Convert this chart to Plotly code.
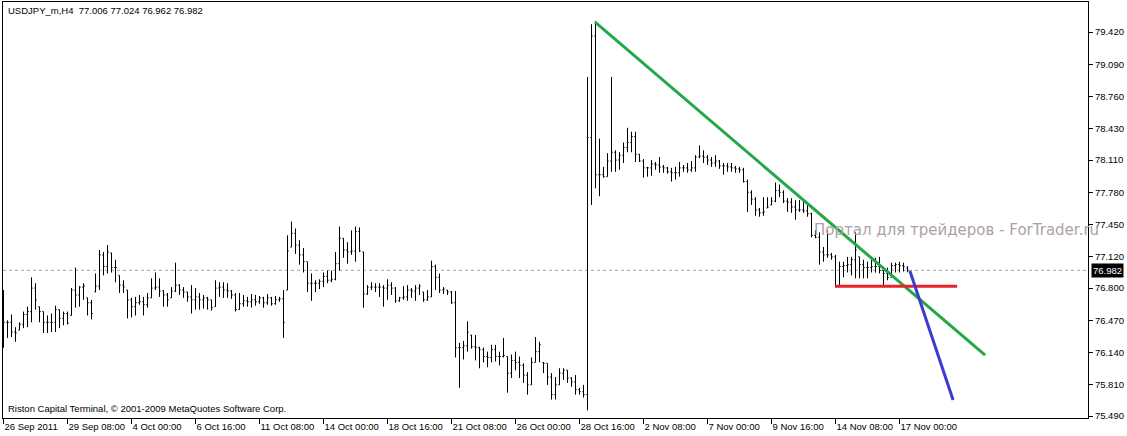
import plotly.graph_objects as go

# USDJPY_m H4 bars, one entry per bar (oldest first)
opens = [
    76.60, 76.45, 76.45, 76.35, 76.37, 76.43, 76.53, 76.56, 76.80, 76.61,
    76.56, 76.45, 76.45, 76.45, 76.58, 76.49, 76.54, 76.52, 76.78, 76.73,
    76.81, 76.70, 76.65, 76.76, 76.82, 77.14, 77.02, 77.16, 77.01, 76.93,
    76.83, 76.78, 76.68, 76.61, 76.65, 76.66, 76.63, 76.70, 76.80, 76.81,
    76.77, 76.73, 76.70, 76.77, 76.83, 76.78, 76.76, 76.71, 76.68, 76.71,
    76.68, 76.70, 76.68, 76.61, 76.80, 76.81, 76.78, 76.77, 76.73, 76.58,
    76.64, 76.67, 76.66, 76.68, 76.66, 76.70, 76.65, 76.70, 76.64, 76.68,
    76.69, 76.78, 77.22, 77.36, 77.24, 77.14, 77.07, 76.85, 76.85, 76.85,
    76.87, 76.92, 76.88, 76.89, 77.05, 77.31, 77.19, 77.17, 77.18, 77.38,
    77.17, 76.74, 76.81, 76.81, 76.81, 76.81, 76.80, 76.83, 76.80, 76.67,
    76.70, 76.71, 76.78, 76.77, 76.80, 76.76, 76.68, 76.71, 77.02, 76.91,
    76.78, 76.78, 76.76, 76.65, 76.19, 76.19, 76.21, 76.32, 76.20, 76.19,
    76.17, 76.10, 76.09, 76.17, 76.10, 76.10, 76.10, 75.93, 76.06, 76.04,
    76.01, 75.91, 75.81, 76.04, 76.15, 76.04, 76.03, 75.89, 75.71, 75.81,
    75.93, 75.96, 75.88, 75.84, 75.76, 75.74, 75.71, 78.34, 79.38, 77.96,
    77.96, 77.94, 78.10, 78.19, 78.11, 78.16, 78.24, 78.29, 78.35, 78.17,
    78.10, 78.03, 78.03, 78.07, 78.06, 78.04, 78.03, 77.99, 77.98, 77.98,
    78.03, 78.03, 78.01, 78.03, 78.14, 78.15, 78.14, 78.11, 78.08, 78.10,
    78.05, 78.05, 78.04, 78.03, 78.02, 78.01, 77.89, 77.78, 77.71, 77.60,
    77.57, 77.62, 77.65, 77.69, 77.80, 77.78, 77.69, 77.68, 77.63, 77.60,
    77.60, 77.59, 77.56, 77.34, 77.32, 77.17, 77.14, 77.14, 77.12, 76.82,
    77.02, 77.03, 77.04, 77.09, 77.12, 77.04, 77.01, 77.01, 77.02, 77.02,
    76.98, 76.95, 76.91, 77.03, 77.04, 77.03, 77.006,
]
highs = [
    76.78, 76.47, 76.53, 76.40, 76.45, 76.56, 76.61, 76.91, 76.85, 76.61,
    76.56, 76.52, 76.54, 76.62, 76.58, 76.56, 76.56, 76.80, 77.01, 76.82,
    76.85, 76.70, 76.68, 76.95, 77.19, 77.17, 77.24, 77.16, 77.09, 76.93,
    76.88, 76.78, 76.70, 76.71, 76.73, 76.71, 76.75, 76.90, 76.96, 76.90,
    76.78, 76.75, 76.81, 77.06, 76.84, 76.81, 76.76, 76.83, 76.80, 76.75,
    76.73, 76.71, 76.68, 76.88, 76.86, 76.86, 76.85, 76.78, 76.75, 76.75,
    76.73, 76.71, 76.74, 76.73, 76.72, 76.71, 76.74, 76.71, 76.72, 76.71,
    76.78, 77.34, 77.48, 77.41, 77.29, 77.21, 77.07, 76.95, 76.88, 76.89,
    76.96, 76.98, 76.98, 77.17, 77.43, 77.31, 77.27, 77.39, 77.43, 77.42,
    77.17, 76.83, 76.86, 76.85, 76.85, 76.83, 76.89, 76.86, 76.81, 76.71,
    76.82, 76.83, 76.80, 76.83, 76.84, 76.76, 76.78, 77.08, 77.04, 76.95,
    76.81, 76.78, 76.77, 76.77, 76.24, 76.26, 76.46, 76.32, 76.32, 76.20,
    76.19, 76.15, 76.22, 76.22, 76.15, 76.29, 76.10, 76.12, 76.15, 76.10,
    76.03, 75.94, 76.09, 76.30, 76.25, 76.04, 76.03, 75.93, 75.89, 75.98,
    75.98, 75.96, 75.89, 75.91, 75.78, 75.81, 78.96, 79.50, 79.53, 78.33,
    78.04, 78.18, 78.96, 78.21, 78.19, 78.29, 78.44, 78.40, 78.40, 78.17,
    78.12, 78.04, 78.11, 78.09, 78.14, 78.06, 78.04, 78.03, 78.04, 78.09,
    78.06, 78.08, 78.10, 78.16, 78.26, 78.21, 78.16, 78.14, 78.16, 78.11,
    78.08, 78.08, 78.08, 78.05, 78.04, 78.03, 77.91, 77.80, 77.73, 77.62,
    77.73, 77.73, 77.73, 77.88, 77.86, 77.80, 77.72, 77.72, 77.70, 77.70,
    77.70, 77.65, 77.57, 77.39, 77.37, 77.22, 77.39, 77.16, 77.14, 77.07,
    77.07, 77.12, 77.12, 77.37, 77.12, 77.09, 77.07, 77.12, 77.11, 77.12,
    77.02, 77.01, 77.06, 77.06, 77.07, 77.06, 77.024,
]
lows = [
    76.19, 76.29, 76.30, 76.25, 76.37, 76.39, 76.40, 76.45, 76.58, 76.45,
    76.34, 76.34, 76.35, 76.35, 76.39, 76.42, 76.43, 76.52, 76.60, 76.61,
    76.68, 76.52, 76.48, 76.76, 76.78, 76.93, 76.95, 76.96, 76.86, 76.75,
    76.75, 76.49, 76.50, 76.52, 76.63, 76.52, 76.60, 76.70, 76.78, 76.71,
    76.61, 76.61, 76.70, 76.76, 76.73, 76.70, 76.66, 76.54, 76.58, 76.58,
    76.59, 76.58, 76.57, 76.61, 76.71, 76.70, 76.70, 76.69, 76.56, 76.58,
    76.61, 76.61, 76.60, 76.62, 76.64, 76.60, 76.63, 76.62, 76.63, 76.66,
    76.29, 76.78, 77.22, 77.15, 77.04, 76.96, 76.76, 76.67, 76.76, 76.79,
    76.81, 76.85, 76.86, 76.88, 76.98, 77.11, 77.05, 77.14, 77.07, 77.17,
    76.60, 76.73, 76.78, 76.76, 76.71, 76.61, 76.68, 76.73, 76.65, 76.66,
    76.68, 76.67, 76.70, 76.67, 76.73, 76.66, 76.67, 76.71, 76.78, 76.75,
    76.74, 76.73, 76.64, 76.09, 75.78, 76.07, 76.15, 76.18, 76.06, 75.98,
    76.04, 75.99, 76.04, 76.05, 76.01, 76.09, 75.73, 75.88, 75.96, 75.88,
    75.83, 75.71, 75.81, 76.04, 76.04, 75.93, 75.81, 75.66, 75.66, 75.81,
    75.86, 75.83, 75.79, 75.71, 75.71, 75.68, 75.55, 77.65, 77.82, 77.74,
    77.93, 77.94, 77.99, 77.99, 78.01, 78.08, 78.19, 78.19, 78.09, 78.09,
    77.93, 77.94, 77.95, 78.01, 77.98, 77.98, 77.97, 77.89, 77.91, 77.94,
    77.99, 77.98, 77.99, 77.99, 78.13, 78.08, 78.06, 78.04, 78.04, 78.02,
    77.96, 77.99, 77.99, 77.98, 77.98, 77.88, 77.58, 77.65, 77.54, 77.53,
    77.54, 77.62, 77.65, 77.68, 77.73, 77.67, 77.58, 77.57, 77.50, 77.58,
    77.57, 77.53, 77.32, 77.31, 77.04, 77.07, 77.11, 77.09, 76.82, 76.81,
    76.91, 76.96, 76.93, 76.90, 76.90, 76.90, 76.90, 76.96, 76.96, 76.95,
    76.83, 76.88, 76.93, 76.96, 76.96, 76.97, 76.962,
]
closes = [
    76.45, 76.45, 76.35, 76.34, 76.43, 76.53, 76.56, 76.80, 76.68, 76.56,
    76.45, 76.45, 76.45, 76.58, 76.49, 76.54, 76.44, 76.78, 76.73, 76.81,
    76.82, 76.65, 76.54, 76.82, 77.14, 77.02, 77.17, 77.01, 77.01, 76.83,
    76.81, 76.68, 76.61, 76.65, 76.66, 76.63, 76.70, 76.80, 76.81, 76.77,
    76.73, 76.68, 76.77, 76.83, 76.78, 76.76, 76.71, 76.68, 76.71, 76.68,
    76.70, 76.68, 76.60, 76.80, 76.81, 76.78, 76.77, 76.73, 76.58, 76.64,
    76.67, 76.66, 76.68, 76.66, 76.70, 76.65, 76.70, 76.64, 76.68, 76.69,
    76.45, 77.18, 77.36, 77.24, 77.14, 77.07, 76.85, 76.85, 76.85, 76.87,
    76.92, 76.88, 76.89, 77.05, 77.31, 77.19, 77.17, 77.18, 77.38, 77.18,
    76.74, 76.81, 76.81, 76.81, 76.81, 76.80, 76.83, 76.80, 76.67, 76.70,
    76.71, 76.78, 76.77, 76.80, 76.82, 76.68, 76.71, 77.02, 76.91, 76.78,
    76.79, 76.76, 76.65, 76.19, 76.19, 76.21, 76.35, 76.20, 76.19, 76.17,
    76.10, 76.09, 76.17, 76.10, 76.10, 76.11, 75.93, 76.06, 76.04, 76.01,
    75.91, 75.81, 76.04, 76.15, 76.22, 76.03, 75.89, 75.71, 75.81, 75.93,
    75.96, 75.88, 75.84, 75.76, 75.74, 75.71, 78.34, 79.38, 77.96, 77.96,
    77.94, 78.10, 78.19, 78.11, 78.16, 78.24, 78.29, 78.35, 78.17, 78.10,
    78.03, 78.03, 78.07, 78.06, 78.04, 78.03, 77.99, 77.98, 77.98, 78.03,
    78.03, 78.01, 78.03, 78.14, 78.15, 78.14, 78.11, 78.08, 78.10, 78.05,
    78.05, 78.04, 78.03, 78.02, 78.01, 77.89, 77.78, 77.71, 77.60, 77.57,
    77.58, 77.63, 77.69, 77.80, 77.78, 77.69, 77.68, 77.63, 77.60, 77.60,
    77.59, 77.56, 77.34, 77.32, 77.17, 77.14, 77.14, 77.12, 76.81, 77.02,
    77.03, 77.04, 77.09, 77.19, 77.04, 77.01, 77.01, 77.02, 77.02, 76.98,
    76.95, 76.91, 77.03, 77.04, 77.03, 77.02, 76.982,
]
bar_index = list(range(len(closes)))

# time axis: a label every 16 bars
time_tick_bars = list(range(0, 225, 16))
time_labels = [
    "26 Sep 2011", "29 Sep 08:00", "4 Oct 00:00", "6 Oct 16:00", "11 Oct 08:00",
    "14 Oct 00:00", "18 Oct 16:00", "21 Oct 08:00", "26 Oct 00:00", "28 Oct 16:00",
    "2 Nov 08:00", "7 Nov 00:00", "9 Nov 16:00", "14 Nov 08:00", "17 Nov 00:00",
]
price_ticks = [79.420, 79.090, 78.760, 78.430, 78.110, 77.780, 77.450,
               77.120, 76.800, 76.470, 76.140, 75.810, 75.490]

# hand drawn objects (bar position, price)
green_x = [147.9, 245.4]
green_y = [79.52, 76.115]
red_x = [207.9, 238.4]
red_y = [76.82, 76.82]
blue_x = [226.6, 237.4]
blue_y = [76.975, 75.655]

last_price = 76.982
FONT = "Liberation Sans"

fig = go.Figure()
fig.add_trace(go.Ohlc(
    x=bar_index, open=opens, high=highs, low=lows, close=closes,
    increasing_line_color="black", decreasing_line_color="black",
    line_width=1, tickwidth=0.3, showlegend=False, hoverinfo="skip",
))
for xs, ys, col in [(green_x, green_y, "#22a846"),
                    (red_x, red_y, "#e8222a"),
                    (blue_x, blue_y, "#3b3bcf")]:
    fig.add_trace(go.Scatter(x=xs, y=ys, mode="lines", showlegend=False,
                             line=dict(color=col, width=3), hoverinfo="skip"))

# bid line
fig.add_shape(type="line", xref="paper", x0=0, x1=1, y0=last_price, y1=last_price,
              line=dict(color="#a8a0a8", width=1, dash="dot"), layer="below")

fig.add_annotation(text="USDJPY_m,H4\u00a0 77.006 77.024 76.962 76.982",
                   xref="paper", yref="paper", x=0, y=1, xanchor="left", yanchor="top",
                   xshift=3, yshift=-1, showarrow=False, font=dict(size=9.5))
fig.add_annotation(text="Riston Capital Terminal, © 2001-2009 MetaQuotes Software Corp.",
                   xref="paper", yref="paper", x=0, y=0, xanchor="left", yanchor="bottom",
                   xshift=3, yshift=2, showarrow=False, font=dict(size=9.5))
fig.add_annotation(text="Портал для трейдеров - ForTrader.ru",
                   xref="paper", yref="y", x=0.7456, y=77.39, xanchor="left",
                   showarrow=False,
                   font=dict(family="DejaVu Sans", size=15, color="#ada2a2"))
fig.add_annotation(text=f"{last_price:.3f}", xref="paper", yref="y", x=1, y=last_price,
                   xanchor="left", xshift=3, showarrow=False, bgcolor="black",
                   borderpad=1, font=dict(size=9.5, color="white"))

fig.update_layout(
    width=1127, height=436,
    margin=dict(l=3, r=39, t=2, b=18, autoexpand=False),
    paper_bgcolor="white", plot_bgcolor="white",
    font=dict(family=FONT, size=9.5, color="black"),
    showlegend=False,
)
fig.update_xaxes(
    range=[-0.125, 271.125], rangeslider_visible=False,
    tickvals=time_tick_bars, ticktext=time_labels,
    ticklabelposition="outside right", tickangle=0, automargin=False,
    ticks="outside", ticklen=5, tickcolor="black",
    showgrid=False, zeroline=False,
    showline=True, linecolor="black", linewidth=1, mirror=True,
)
fig.update_yaxes(
    range=[75.471, 79.727], side="right", automargin=False,
    tickvals=price_ticks, ticktext=[f"{v:.3f}" for v in price_ticks],
    ticks="outside", ticklen=4, tickcolor="black",
    showgrid=False, zeroline=False,
    showline=True, linecolor="black", linewidth=1, mirror=True,
)

# the page body has a default 8px margin; drop it so the chart fills the window
fig.write_html("out.html", config={"displayModeBar": False},
               post_script="document.body.style.margin='0';")
